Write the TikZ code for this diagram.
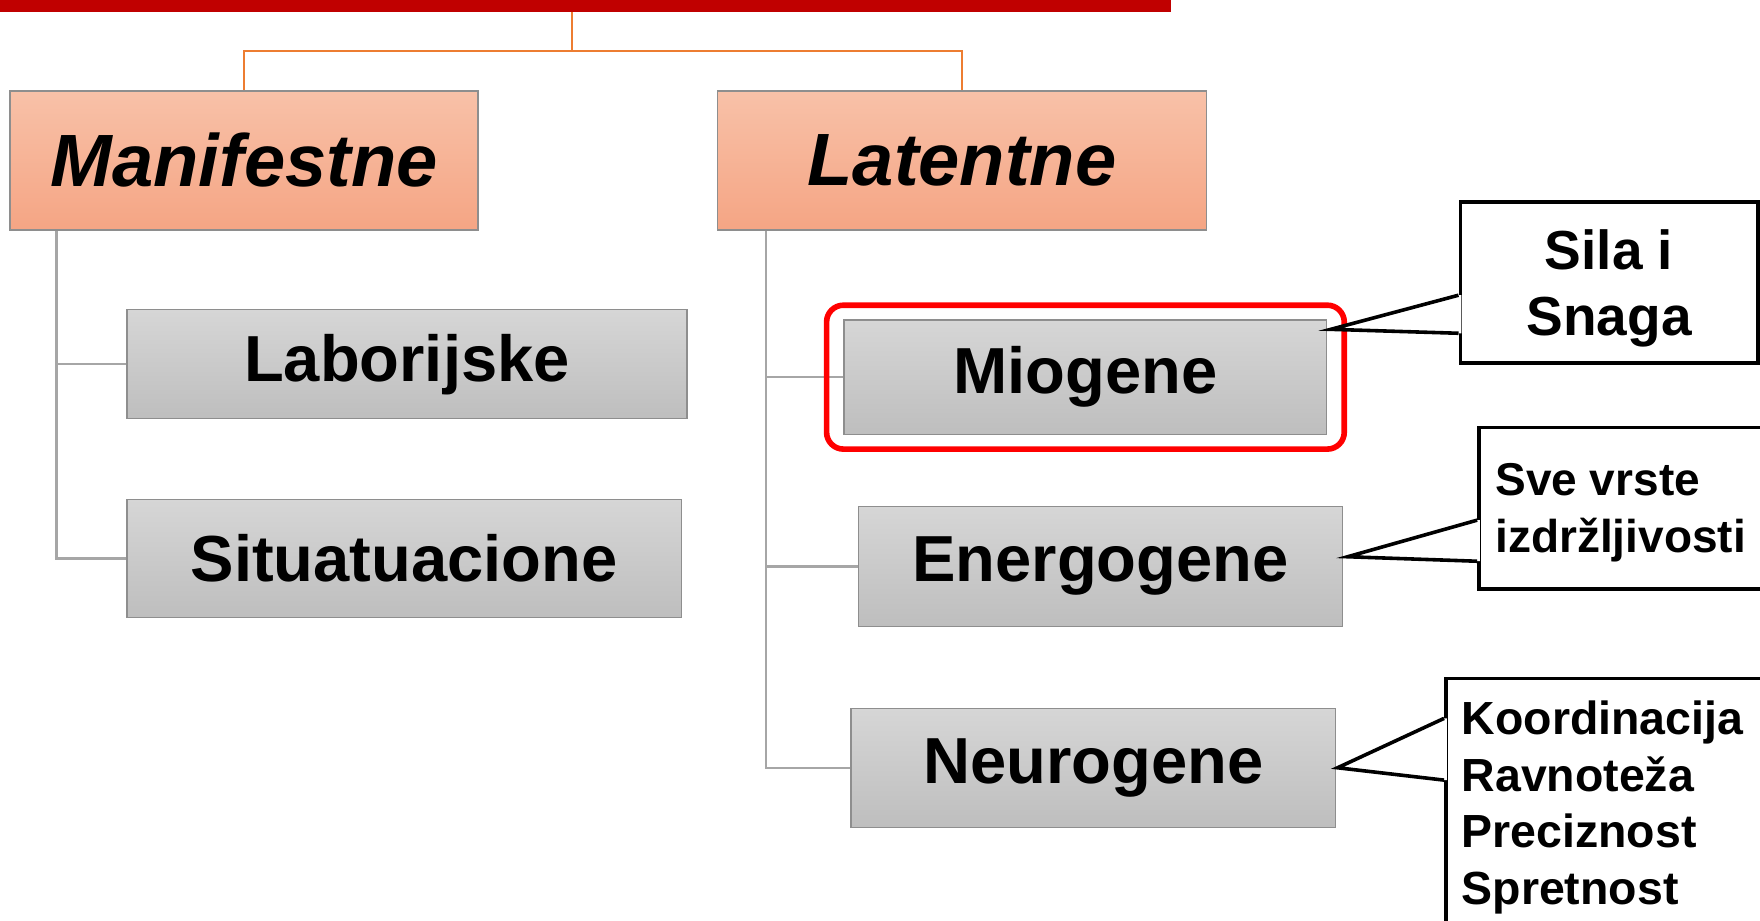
\documentclass[tikz,border=0pt]{standalone}
\usepackage{fontspec}
\setmainfont{Liberation Sans}
\usetikzlibrary{fit}

\definecolor{barred}{HTML}{C00000}
\definecolor{linkorange}{HTML}{ED7D31}
\definecolor{treegray}{HTML}{A6A6A6}
\definecolor{boxedge}{HTML}{8E8E8E}
\definecolor{peachtop}{HTML}{F8C1A8}
\definecolor{peachbot}{HTML}{F5A584}
\definecolor{greytop}{HTML}{D6D6D6}
\definecolor{greybot}{HTML}{BEBEBE}

\tikzset{
  topbox/.style={draw=boxedge, line width=1.2pt, top color=peachtop, bottom color=peachbot,
    font=\fontsize{66}{70}\selectfont\bfseries\itshape, inner sep=0pt},
  subbox/.style={draw=boxedge, line width=1.2pt, top color=greytop, bottom color=greybot,
    font=\fontsize{58}{60}\selectfont\bfseries, inner sep=0pt},
  callbox/.style={draw=black, line width=3.2pt, fill=white, inner sep=0pt},
  calltext/.style={font=\fontsize{41.4}{50.5}\selectfont\bfseries, align=left, inner sep=0pt},
  orgline/.style={draw=linkorange, line width=1.8pt},
  treeline/.style={draw=treegray, line width=2.2pt},
  callline/.style={line width=3.2pt, line join=miter},
  hilite/.style={draw=red, line width=5pt, rounded corners=15pt},
}

\begin{document}
\begin{tikzpicture}[x=1pt,y=-1pt]
    \useasboundingbox (0,0) rectangle (1568,820);
    % top bar and the two main groups
    \node [fill=barred, inner sep=0pt, minimum width=1043pt, minimum height=16.5pt, anchor=north west] (bar) at (0,-6) {};
    \node [topbox, minimum width=417pt, minimum height=124pt] (man) at (217.5,143) {Manifestne};
    \node [topbox, minimum width=436pt, minimum height=124pt] (lat) at (857,143) {Latentne};
    \coordinate (split) at (510,45);
    \draw [orgline] (bar.south -| split) -- (split) -| (man.north);
    \draw [orgline] (split) -| (lat.north);

    % manifestne branch
    \node [subbox, minimum width=499pt, minimum height=97pt] (lab) at (362.5,324.5) {Laborijske};
    \node [subbox, minimum width=494pt, minimum height=105pt] (sit) at (360,497.5) {Situatuacione};
    \draw [treeline] ([xshift=42pt]man.south west) |- (lab.west);
    \draw [treeline] ([xshift=42pt]man.south west) |- (sit.west);

    % latentne branch
    \node [subbox, minimum width=430pt, minimum height=102pt] (mio) at (967,336) {Miogene};
    \node [subbox, minimum width=431pt, minimum height=107pt] (ene) at (980.5,504.5) {Energogene};
    \node [subbox, minimum width=432pt, minimum height=106pt] (neu) at (974,684) {Neurogene};
    \draw [treeline] ([xshift=44pt]lat.south west) |- (mio.west);
    \draw [treeline] ([xshift=44pt]lat.south west) |- (ene.west);
    \draw [treeline] ([xshift=44pt]lat.south west) |- (neu.west);
    \node [hilite, fit=(mio), inner xsep=15pt, inner ysep=12.5pt] (miohl) {};

    % callouts
    \node [callbox, minimum width=265pt, minimum height=143.5pt, align=center, text depth=0pt,
        font=\fontsize{49}{58}\selectfont\bfseries] (sgcall) at (1433.5,251.75) {Sila i\\Snaga};
    \node [callbox, anchor=west, minimum width=300pt, minimum height=143.5pt] (encall) at (1316,452.75) {};
    \node [calltext, anchor=north west, font=\fontsize{41}{51}\selectfont\bfseries] (entext)
        at ([shift={(16,33)}]encall.north west) {Sve vrste\\izdržljivosti};
    \node [callbox, anchor=north west, minimum width=300pt, minimum height=260pt] (nrcall) at (1286.5,603) {};
    \node [calltext, anchor=north west] (nrtext) at ([shift={(15.5,21)}]nrcall.north west) {Koordinacija\\Ravnoteža\\Preciznost\\Spretnost};

    \coordinate (sgtop) at ([shift={(0,84.6)}]sgcall.north west);
    \coordinate (sgbot) at ([shift={(0,118.5)}]sgcall.north west);
    \coordinate (sgtip) at ([shift={(3,9)}]mio.north east);
    \fill [white] (sgtop) -- (sgtip) -- (sgbot) -- ([xshift=2.5pt]sgbot) -- ([xshift=2.5pt]sgtop) -- cycle;
    \draw [callline] (sgtop) -- (sgtip) -- (sgbot);

    \coordinate (entop) at ([shift={(0,84)}]encall.north west);
    \coordinate (enbot) at ([shift={(0,120.6)}]encall.north west);
    \coordinate (entip) at ([shift={(4,-8.5)}]ene.east);
    \fill [white] (entop) -- (entip) -- (enbot) -- ([xshift=2.5pt]enbot) -- ([xshift=2.5pt]entop) -- cycle;
    \draw [callline] (entop) -- (entip) -- (enbot);

    \coordinate (nrtop) at ([shift={(0,37)}]nrcall.north west);
    \coordinate (nrbot) at ([shift={(0,92)}]nrcall.north west);
    \coordinate (nrtip) at ([shift={(1,0)}]neu.east);
    \fill [white] (nrtop) -- (nrtip) -- (nrbot) -- ([xshift=2.5pt]nrbot) -- ([xshift=2.5pt]nrtop) -- cycle;
    \draw [callline] (nrtop) -- (nrtip) -- (nrbot);
\end{tikzpicture}
\end{document}
